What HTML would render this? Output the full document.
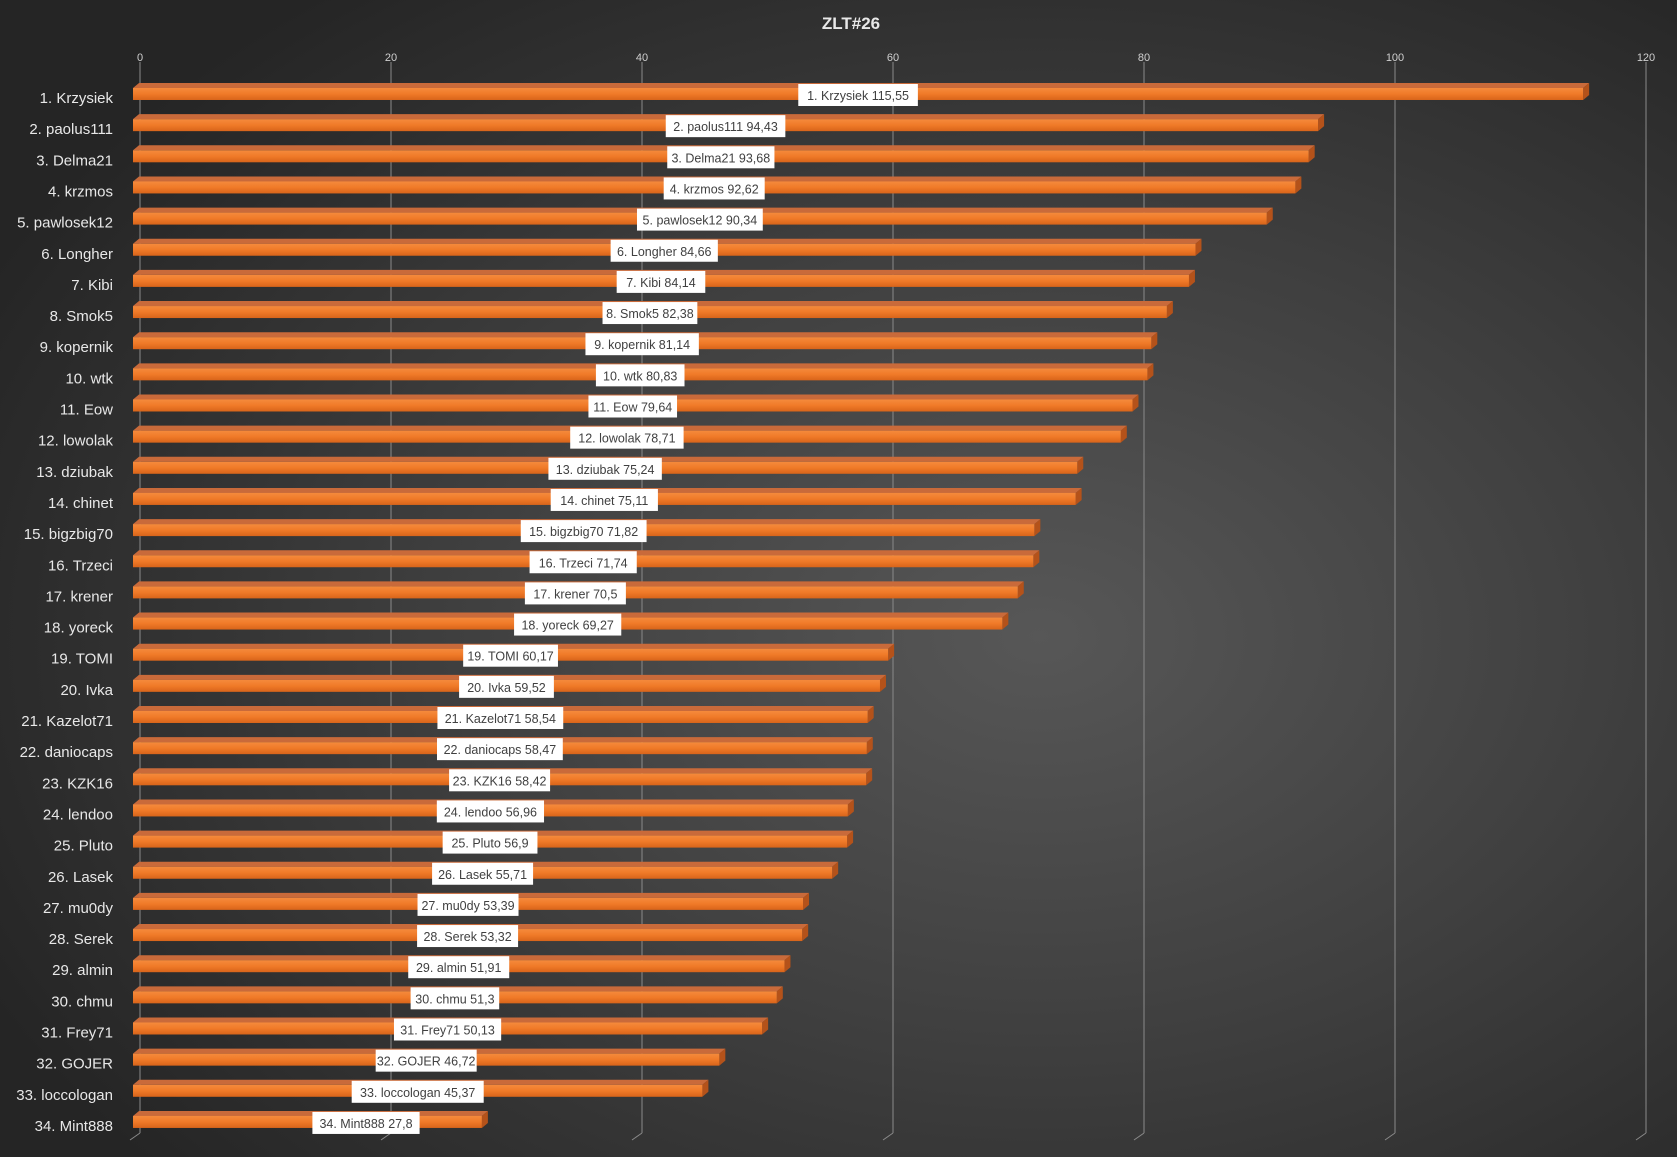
<!DOCTYPE html>
<html><head><meta charset="utf-8"><style>
html,body{margin:0;padding:0;background:#2a2a2a}
svg{display:block}
text{font-family:"Liberation Sans",sans-serif}
</style></head><body>
<svg id="s" width="1677" height="1157" xmlns="http://www.w3.org/2000/svg">
<defs>
<radialGradient id="bg" cx="0.62" cy="0.55" r="0.7">
<stop offset="0" stop-color="#575757"/><stop offset="0.5" stop-color="#3f3f3f"/><stop offset="1" stop-color="#252525"/>
</radialGradient>
<linearGradient id="fr" x1="0" y1="0" x2="0" y2="1">
<stop offset="0" stop-color="#f58a3c"/><stop offset="0.5" stop-color="#f07a28"/><stop offset="1" stop-color="#d8641a"/>
</linearGradient>
</defs>
<rect width="1677" height="1157" fill="url(#bg)"/>
<text x="851" y="29" text-anchor="middle" fill="#e8e8e8" font-size="17" font-weight="bold">ZLT#26</text>
<g id="g"></g>
</svg>
<script>
var d=[["Krzysiek","115,55"],["paolus111","94,43"],["Delma21","93,68"],["krzmos","92,62"],["pawlosek12","90,34"],["Longher","84,66"],["Kibi","84,14"],["Smok5","82,38"],["kopernik","81,14"],["wtk","80,83"],["Eow","79,64"],["lowolak","78,71"],["dziubak","75,24"],["chinet","75,11"],["bigzbig70","71,82"],["Trzeci","71,74"],["krener","70,5"],["yoreck","69,27"],["TOMI","60,17"],["Ivka","59,52"],["Kazelot71","58,54"],["daniocaps","58,47"],["KZK16","58,42"],["lendoo","56,96"],["Pluto","56,9"],["Lasek","55,71"],["mu0dy","53,39"],["Serek","53,32"],["almin","51,91"],["chmu","51,3"],["Frey71","50,13"],["GOJER","46,72"],["loccologan","45,37"],["Mint888","27,8"]];
var s="",k=12.55;
for(var t=0;t<=120;t+=20){var x=140+t*k;s+='<line x1="'+x+'" y1="62" x2="'+x+'" y2="1133" stroke="#8a8a8a" stroke-width="1"/><text x="'+x+'" y="61" text-anchor="middle" fill="#d0d0d0" font-size="11">'+t+'</text>';
s+='<line x1="'+x+'" y1="1133" x2="'+(x-10)+'" y2="1140" stroke="#8a8a8a" stroke-width="1"/>';}
for(var i=0;i<d.length;i++){var v=parseFloat(d[i][1].replace(',','.'));var c=95+31.15*i;var w=v*k;
s+='<polygon points="133,'+(c-7)+' 139,'+(c-12)+' '+(139+w)+','+(c-12)+' '+(133+w)+','+(c-7)+'" fill="#c96a3a"/>';
s+='<polygon points="'+(133+w)+','+(c-7)+' '+(139+w)+','+(c-12)+' '+(139+w)+','+c+' '+(133+w)+','+(c+5)+'" fill="#b4521a"/>';
s+='<rect x="133" y="'+(c-7)+'" width="'+w+'" height="12" fill="url(#fr)"/>';
s+='<text x="113" y="'+(c+8)+'" text-anchor="end" fill="#e8e8e8" font-size="15">'+(i+1)+'. '+d[i][0]+'</text>';
var lab=(i+1)+'. '+d[i][0]+' '+d[i][1];var lw=lab.length*6.2+8;var cx=(i==33)?366:133+w/2;
s+='<rect x="'+(cx-lw/2)+'" y="'+(c-11)+'" width="'+lw+'" height="22" fill="#fff"/><text x="'+cx+'" y="'+(c+5)+'" text-anchor="middle" fill="#404040" font-size="12.5">'+lab+'</text>';}
document.getElementById('g').innerHTML=s;
</script>
</body></html>
